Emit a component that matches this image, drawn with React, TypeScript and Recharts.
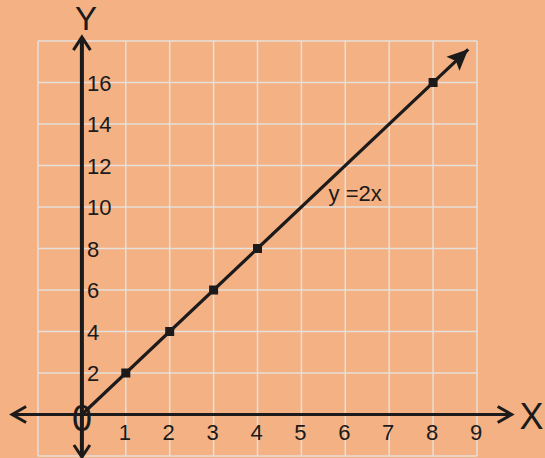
import React from 'react';
import { ComposedChart, XAxis, YAxis, ReferenceLine, ReferenceDot, Scatter } from 'recharts';

const xGridValues = [-1, 0, 1, 2, 3, 4, 5, 6, 7, 8, 9];
const yGridValues = [-2, 0, 2, 4, 6, 8, 10, 12, 14, 16, 18];
const xTickLabels = [1, 2, 3, 4, 5, 6, 7, 8, 9];
const yTickLabels = [2, 4, 6, 8, 10, 12, 14, 16];
const pointX = [1, 2, 3, 4, 8];
const pointY = [2, 4, 6, 8, 16];
const lineStart = { x: 0, y: 0 };
const lineEnd = { x: 8.8, y: 17.6 };
const xAxisExtent = [-1.59, 9.79];
const yAxisExtent = [-2.05, 18.19];
const equationLabel = 'y =2x';
const equationPos = { x: 5.62, y: 10.3 };

const points = pointX.map((x, i) => ({ x, y: pointY[i] }));

const INK = '#1c1a1a';
const BG = '#F4B183';
const GRID = '#E6E0DA';
const FONT = '"Liberation Sans", Arial, sans-serif';

function chevron(tx: number, ty: number, fx: number, fy: number, back: number, hw: number) {
  const dx = tx - fx;
  const dy = ty - fy;
  const len = Math.sqrt(dx * dx + dy * dy) || 1;
  const ux = dx / len;
  const uy = dy / len;
  const nx = -uy;
  const ny = ux;
  const bx = tx - back * ux;
  const by = ty - back * uy;
  return `${bx + hw * nx},${by + hw * ny} ${tx},${ty} ${bx - hw * nx},${by - hw * ny}`;
}

function filledArrow(tx: number, ty: number, fx: number, fy: number, back: number, hw: number, notch: number) {
  const dx = tx - fx;
  const dy = ty - fy;
  const len = Math.sqrt(dx * dx + dy * dy) || 1;
  const ux = dx / len;
  const uy = dy / len;
  const nx = -uy;
  const ny = ux;
  const bx = tx - back * ux;
  const by = ty - back * uy;
  const mx = tx - (back - notch) * ux;
  const my = ty - (back - notch) * uy;
  return `${tx},${ty} ${bx + hw * nx},${by + hw * ny} ${mx},${my} ${bx - hw * nx},${by - hw * ny}`;
}

const XAxisShape = (p: any) => (
  <g>
    <line x1={p.x1} y1={p.y1} x2={p.x2} y2={p.y2} stroke={INK} strokeWidth={3} />
    <polyline points={chevron(p.x1, p.y1, p.x2, p.y2, 14, 8)} fill="none" stroke={INK} strokeWidth={3} />
    <polyline points={chevron(p.x2, p.y2, p.x1, p.y1, 14, 8)} fill="none" stroke={INK} strokeWidth={3} />
  </g>
);

const YAxisShape = (p: any) => (
  <g>
    <line x1={p.x1} y1={p.y1} x2={p.x2} y2={p.y2} stroke={INK} strokeWidth={4} />
    <polyline points={chevron(p.x1, p.y1, p.x2, p.y2, 12, 8)} fill="none" stroke={INK} strokeWidth={3} />
    <polyline points={chevron(p.x2, p.y2, p.x1, p.y1, 13, 8.5)} fill="none" stroke={INK} strokeWidth={3} />
  </g>
);

const LineShape = (p: any) => (
  <g>
    <line x1={p.x1} y1={p.y1} x2={p.x2} y2={p.y2} stroke={INK} strokeWidth={3.2} />
    <polygon points={filledArrow(p.x2, p.y2, p.x1, p.y1, 21, 9.5, 4)} fill={INK} />
  </g>
);

const SquareShape = (p: any) => (
  <rect x={p.cx - 4.5} y={p.cy - 4.5} width={9} height={9} fill={INK} />
);

export default function App() {
  return (
    <div style={{ position: 'absolute', left: 0, top: 0, width: 545, height: 458, background: BG }}>
      <ComposedChart width={545} height={458} margin={{ top: 41, right: 68, bottom: 2, left: 38 }} data={points}>
        <XAxis dataKey="x" type="number" domain={[-1, 9]} allowDataOverflow hide />
        <YAxis dataKey="y" type="number" domain={[-2, 18]} allowDataOverflow hide />
        {xGridValues.map((v) => (
          <ReferenceLine key={'gx' + v} x={v} stroke={GRID} strokeWidth={1.5} ifOverflow="visible" />
        ))}
        {yGridValues.map((v) => (
          <ReferenceLine key={'gy' + v} y={v} stroke={GRID} strokeWidth={1.5} ifOverflow="visible" />
        ))}
        <ReferenceLine
          segment={[{ x: xAxisExtent[0], y: 0 }, { x: xAxisExtent[1], y: 0 }]}
          ifOverflow="visible"
          shape={XAxisShape}
        />
        <ReferenceLine
          segment={[{ x: 0, y: yAxisExtent[0] }, { x: 0, y: yAxisExtent[1] }]}
          ifOverflow="visible"
          shape={YAxisShape}
        />
        <ReferenceLine
          segment={[lineStart, lineEnd]}
          ifOverflow="visible"
          shape={LineShape}
        />
        <Scatter dataKey="y" isAnimationActive={false} shape={SquareShape} />
        {xTickLabels.map((v) => (
          <ReferenceDot
            key={'xl' + v}
            x={v}
            y={0}
            r={0}
            ifOverflow="visible"
            shape={(p: any) => (
              <text x={p.cx - 1} y={p.cy + 25.5} textAnchor="middle" fontSize={22} fontFamily={FONT} fill={INK}>
                {v}
              </text>
            )}
          />
        ))}
        {yTickLabels.map((v) => (
          <ReferenceDot
            key={'yl' + v}
            x={0}
            y={v}
            r={0}
            ifOverflow="visible"
            shape={(p: any) => (
              <text x={p.cx + 5} y={p.cy + 8} textAnchor="start" fontSize={22} fontFamily={FONT} fill={INK}>
                {v}
              </text>
            )}
          />
        ))}
        <ReferenceDot
          x={0}
          y={0}
          r={0}
          ifOverflow="visible"
          shape={(p: any) => (
            <text x={p.cx} y={p.cy + 16} textAnchor="middle" fontSize={36} fontFamily={FONT} fill={INK}>
              0
            </text>
          )}
        />
        <ReferenceDot
          x={0}
          y={18}
          r={0}
          ifOverflow="visible"
          shape={(p: any) => (
            <text x={p.cx + 4} y={p.cy - 11} textAnchor="middle" fontSize={33} fontFamily={FONT} fill={INK}>
              Y
            </text>
          )}
        />
        <ReferenceDot
          x={9}
          y={0}
          r={0}
          ifOverflow="visible"
          shape={(p: any) => (
            <text x={p.cx + 54.5} y={p.cy + 14.5} textAnchor="middle" fontSize={36} fontFamily={FONT} fill={INK}>
              X
            </text>
          )}
        />
        <ReferenceDot
          x={equationPos.x}
          y={equationPos.y}
          r={0}
          ifOverflow="visible"
          shape={(p: any) => (
            <text x={p.cx} y={p.cy} textAnchor="start" fontSize={22} fontFamily={FONT} fill={INK}>
              {equationLabel}
            </text>
          )}
        />
      </ComposedChart>
    </div>
  );
}
